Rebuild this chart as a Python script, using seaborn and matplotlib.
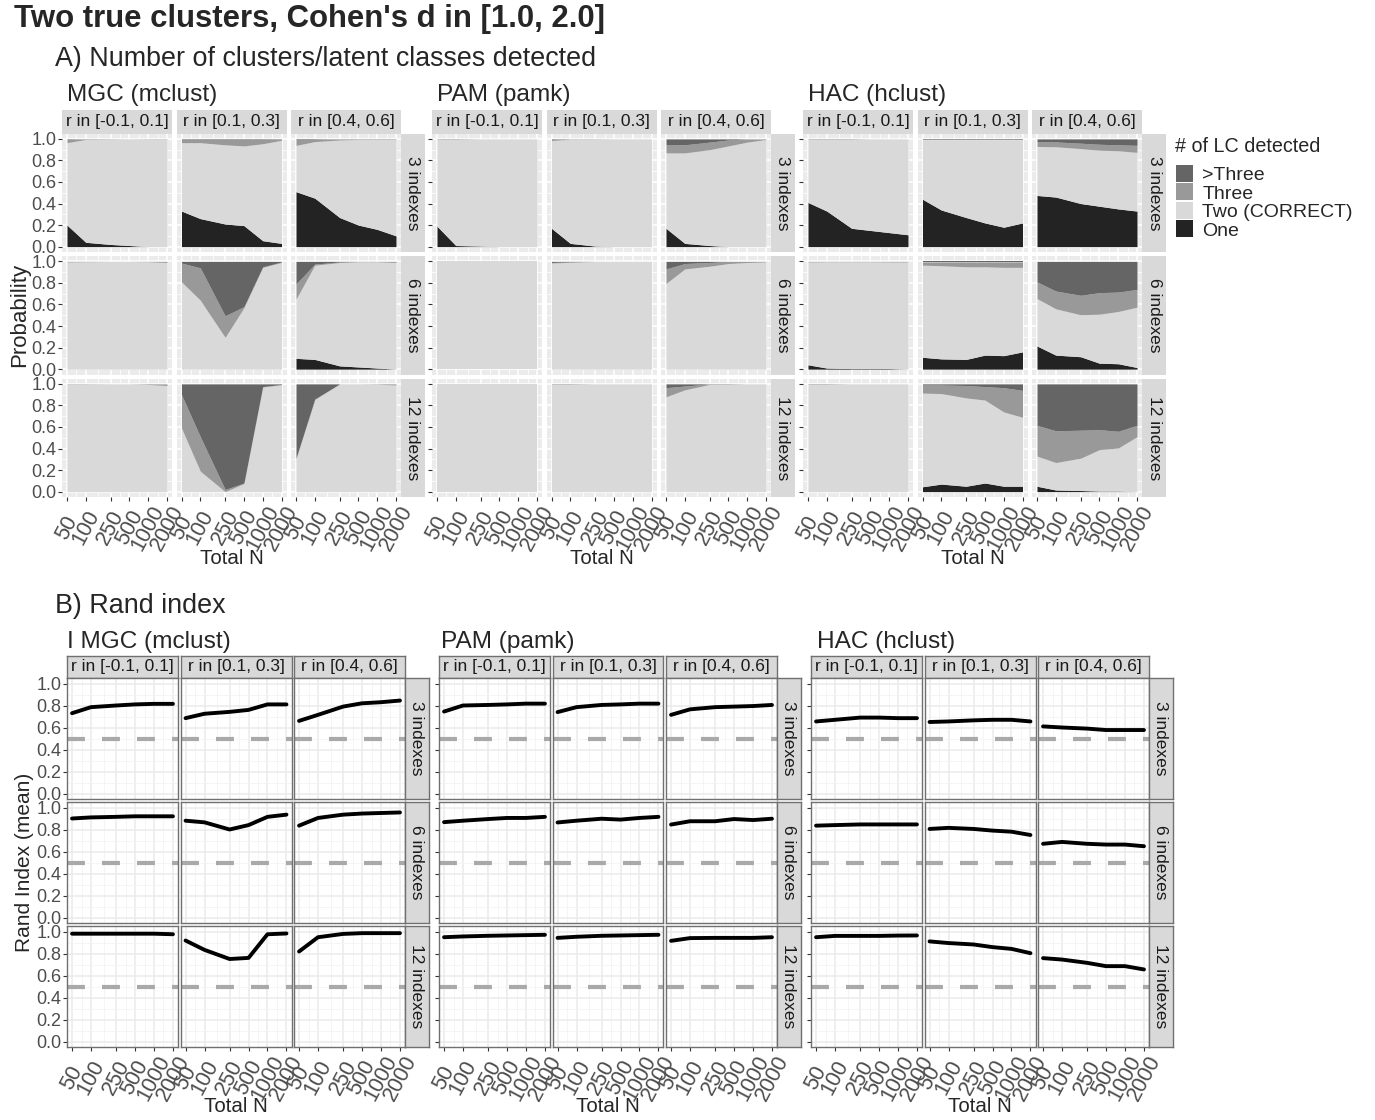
import numpy as np
import matplotlib
matplotlib.use("Agg")
import matplotlib.pyplot as plt
from matplotlib.patches import Patch
from matplotlib.ticker import NullFormatter
import seaborn as sns

# ---- data -------------------------------------------------------------
N = [50, 100, 250, 500, 1000, 2000]
RHO = ["r in [-0.1, 0.1]", "r in [0.1, 0.3]", "r in [0.4, 0.6]"]
INDEXES = ["3 indexes", "6 indexes", "12 indexes"]
METHODS_A = ["MGC (mclust)", "PAM (pamk)", "HAC (hclust)"]
METHODS_B = ["I MGC (mclust)", "PAM (pamk)", "HAC (hclust)"]
LC_LEVELS = [">Three", "Three", "Two (CORRECT)", "One"]

# probability of detecting one / three / more than three classes
# [row = indexes][col = r range][N]
MGC_ONE = [
    [[0.20, 0.04, 0.02, 0.01, 0.0, 0.0], [0.33, 0.26, 0.21, 0.195, 0.055, 0.03], [0.51, 0.45, 0.27, 0.20, 0.16, 0.10]],
    [[0, 0, 0, 0, 0, 0], [0, 0, 0, 0, 0, 0], [0.10, 0.09, 0.03, 0.02, 0.01, 0.0]],
    [[0, 0, 0, 0, 0, 0], [0, 0, 0, 0, 0, 0], [0, 0, 0, 0, 0, 0]],
]
MGC_THREE = [
    [[0.03, 0.005, 0.003, 0.0, 0.003, 0.003], [0.03, 0.03, 0.05, 0.06, 0.04, 0.01], [0.05, 0.02, 0.01, 0.005, 0.005, 0.005]],
    [[0.005, 0.003, 0.0, 0.0, 0.003, 0.01], [0.175, 0.30, 0.20, 0.01, 0.005, 0.005], [0.14, 0.01, 0.005, 0.003, 0.003, 0.01]],
    [[0.003, 0.003, 0.0, 0.0, 0.005, 0.015], [0.31, 0.32, 0.02, 0.005, 0.003, 0.003], [0.005, 0.005, 0.0, 0.0, 0.003, 0.01]],
]
MGC_MORE = [
    [[0.005, 0, 0, 0, 0, 0], [0.005, 0.005, 0.005, 0.005, 0.005, 0.003], [0.01, 0.005, 0, 0, 0, 0]],
    [[0, 0, 0, 0, 0, 0], [0.015, 0.06, 0.505, 0.42, 0.05, 0.005], [0.21, 0.025, 0.005, 0, 0, 0]],
    [[0, 0, 0, 0, 0, 0], [0.10, 0.49, 0.98, 0.92, 0.025, 0.005], [0.69, 0.14, 0, 0, 0, 0]],
]

PAM_ONE = [
    [[0.19, 0.01, 0.005, 0, 0, 0], [0.17, 0.03, 0.005, 0, 0, 0], [0.17, 0.03, 0.01, 0, 0, 0]],
    [[0, 0, 0, 0, 0, 0], [0, 0, 0, 0, 0, 0], [0, 0, 0, 0, 0, 0]],
    [[0, 0, 0, 0, 0, 0], [0, 0, 0, 0, 0, 0], [0, 0, 0, 0, 0, 0]],
]
PAM_THREE = [
    [[0.005, 0.005, 0, 0, 0, 0], [0.01, 0.003, 0.003, 0, 0, 0], [0.075, 0.075, 0.07, 0.055, 0.03, 0.005]],
    [[0, 0, 0, 0, 0, 0], [0.005, 0.005, 0, 0, 0, 0], [0.135, 0.05, 0.035, 0.02, 0.01, 0.005]],
    [[0, 0, 0, 0, 0, 0], [0.005, 0.005, 0, 0, 0, 0], [0.085, 0.035, 0.005, 0.005, 0, 0]],
]
PAM_MORE = [
    [[0, 0, 0, 0, 0, 0], [0.005, 0, 0, 0, 0, 0], [0.055, 0.055, 0.03, 0.01, 0, 0]],
    [[0, 0, 0, 0, 0, 0], [0.01, 0.003, 0, 0, 0, 0], [0.07, 0.02, 0.01, 0, 0, 0]],
    [[0, 0, 0, 0, 0, 0], [0, 0, 0, 0, 0, 0], [0.035, 0.02, 0, 0, 0, 0]],
]

HAC_ONE = [
    [[0.41, 0.33, 0.17, 0.15, 0.13, 0.11], [0.44, 0.34, 0.27, 0.22, 0.18, 0.22], [0.475, 0.46, 0.40, 0.375, 0.35, 0.33]],
    [[0.04, 0.01, 0.005, 0.005, 0.005, 0], [0.11, 0.095, 0.09, 0.13, 0.125, 0.16], [0.215, 0.13, 0.115, 0.055, 0.05, 0.015]],
    [[0, 0, 0, 0, 0, 0], [0.045, 0.07, 0.05, 0.08, 0.05, 0.05], [0.05, 0.015, 0.01, 0.005, 0.005, 0]],
]
HAC_THREE = [
    [[0.005, 0.005, 0.005, 0, 0, 0], [0.005, 0.005, 0.005, 0.005, 0.005, 0.005], [0.045, 0.045, 0.05, 0.055, 0.055, 0.065]],
    [[0.005, 0.003, 0.003, 0.003, 0.005, 0.005], [0.03, 0.035, 0.045, 0.045, 0.05, 0.05], [0.155, 0.165, 0.18, 0.20, 0.18, 0.165]],
    [[0.005, 0.005, 0, 0, 0, 0], [0.075, 0.08, 0.115, 0.125, 0.225, 0.25], [0.285, 0.295, 0.26, 0.185, 0.155, 0.105]],
]
HAC_MORE = [
    [[0, 0, 0, 0, 0, 0], [0.003, 0.003, 0.003, 0.003, 0.003, 0.003], [0.025, 0.028, 0.04, 0.05, 0.055, 0.06]],
    [[0, 0, 0, 0, 0, 0], [0.005, 0.005, 0.005, 0.005, 0.005, 0.005], [0.19, 0.275, 0.315, 0.29, 0.285, 0.26]],
    [[0, 0, 0, 0, 0, 0], [0.01, 0.01, 0.015, 0.025, 0.035, 0.06], [0.385, 0.435, 0.43, 0.425, 0.44, 0.385]],
]

# mean Rand index
MGC_RAND = [
    [[0.73, 0.785, 0.80, 0.81, 0.815, 0.815], [0.685, 0.725, 0.742, 0.76, 0.81, 0.81], [0.66, 0.715, 0.79, 0.82, 0.83, 0.845]],
    [[0.90, 0.91, 0.915, 0.92, 0.92, 0.92], [0.88, 0.865, 0.80, 0.84, 0.915, 0.935], [0.835, 0.905, 0.935, 0.945, 0.95, 0.955]],
    [[0.98, 0.98, 0.98, 0.98, 0.98, 0.975], [0.918, 0.833, 0.75, 0.76, 0.975, 0.982], [0.818, 0.948, 0.978, 0.985, 0.985, 0.985]],
]
PAM_RAND = [
    [[0.745, 0.80, 0.805, 0.81, 0.817, 0.817], [0.74, 0.785, 0.805, 0.81, 0.817, 0.817], [0.715, 0.765, 0.785, 0.79, 0.795, 0.805]],
    [[0.867, 0.88, 0.895, 0.905, 0.905, 0.915], [0.864, 0.88, 0.898, 0.89, 0.905, 0.915], [0.845, 0.875, 0.875, 0.895, 0.886, 0.898]],
    [[0.948, 0.955, 0.961, 0.964, 0.967, 0.97], [0.942, 0.952, 0.961, 0.964, 0.967, 0.97], [0.915, 0.94, 0.942, 0.942, 0.942, 0.948]],
]
HAC_RAND = [
    [[0.655, 0.67, 0.69, 0.69, 0.685, 0.685], [0.65, 0.655, 0.665, 0.67, 0.67, 0.655], [0.61, 0.60, 0.59, 0.577, 0.577, 0.577]],
    [[0.835, 0.84, 0.846, 0.846, 0.846, 0.846], [0.805, 0.815, 0.805, 0.79, 0.78, 0.75], [0.67, 0.687, 0.67, 0.663, 0.663, 0.648]],
    [[0.948, 0.96, 0.96, 0.96, 0.963, 0.964], [0.91, 0.895, 0.882, 0.858, 0.842, 0.803], [0.758, 0.745, 0.715, 0.685, 0.685, 0.655]],
]
CHANCE = 0.5

# ---- style ------------------------------------------------------------
C_MORE, C_THREE, C_TWO, C_ONE = "#656565", "#999999", "#d9d9d9", "#232323"
STRIP_BG = "#d9d9d9"
TICK_TXT = "#4d4d4d"
BORDER = "#707070"

sns.set_theme(style="white")
plt.rcParams['font.family'] = ['Liberation Sans', 'DejaVu Sans']

W, H = 1375, 1120
fig = plt.figure(figsize=(W / 100, H / 100), dpi=100)


def px_axes(x0, y0, x1, y1):
    return fig.add_axes([x0 / W, 1 - y1 / H, (x1 - x0) / W, (y1 - y0) / H])


X_LO = 50 / 40 ** 0.05
X_HI = 2000 * 40 ** 0.05
MINOR_X = [np.sqrt(a * b) for a, b in zip(N[:-1], N[1:])]


def style_axes(ax, left, bottom, ylabels, grid_major, grid_minor):
    ax.set_xscale('log')
    ax.set_xlim(X_LO, X_HI)
    ax.set_ylim(-0.05, 1.05)
    ax.set_xticks(N)
    ax.set_xticks(MINOR_X, minor=True)
    ax.set_yticks([0, 0.2, 0.4, 0.6, 0.8, 1.0])
    ax.set_yticks([0.1, 0.3, 0.5, 0.7, 0.9], minor=True)
    ax.xaxis.set_minor_formatter(NullFormatter())
    ax.set_xlabel("")
    ax.set_ylabel("")
    ax.set_axisbelow(True)
    ax.grid(True, which='major', color=grid_major, lw=1.1)
    ax.grid(True, which='minor', color=grid_minor, lw=0.55)
    ax.tick_params(which='minor', length=0)
    ax.tick_params(which='major', length=2.75, width=0.8, color='#333333', direction='out')
    if bottom:
        ax.set_xticklabels([str(n) for n in N], rotation=62, ha='center', va='center',
                           rotation_mode='anchor', fontsize=15.5, color=TICK_TXT)
        ax.tick_params(axis='x', pad=19.5, bottom=True)
    else:
        ax.tick_params(axis='x', bottom=False, labelbottom=False)
    if left:
        ax.tick_params(axis='y', left=True, labelleft=ylabels, pad=1.2, labelsize=13, labelcolor=TICK_TXT)
        ax.set_yticklabels(["0.0", "0.2", "0.4", "0.6", "0.8", "1.0"])
    else:
        ax.tick_params(axis='y', left=False, labelleft=False)


def strip(ax, text, rot, bordered):
    ax.set_facecolor(STRIP_BG)
    ax.set_xticks([])
    ax.set_yticks([])
    for s in ax.spines.values():
        s.set_visible(bordered)
        s.set_color(BORDER)
        s.set_linewidth(1.0)
    ax.text(0.5, 0.5, text, rotation=rot, ha='center', va='center', fontsize=12.5,
            color='#1a1a1a', transform=ax.transAxes)


# ---- titles -----------------------------------------------------------
fig.text(14 / W, 1 - 19 / H, "Two true clusters, Cohen's d in [1.0, 2.0]", fontsize=22.4,
         fontweight='bold', ha='left', va='center')
fig.text(55 / W, 1 - 59 / H, "A) Number of clusters/latent classes detected", fontsize=19.4,
         ha='left', va='center')
fig.text(55 / W, 1 - 606 / H, "B) Rand index", fontsize=19.4, ha='left', va='center')

# ---- panel A ----------------------------------------------------------
A_LEFT = [62, 432, 803]
A_PW, A_GAP, A_SW = 110, 4.5, 24
A_ROWS = [(133.5, 252), (256, 374.5), (378.5, 497)]
A_STRIP_TOP = 110
A_DATA = [(MGC_ONE, MGC_THREE, MGC_MORE), (PAM_ONE, PAM_THREE, PAM_MORE), (HAC_ONE, HAC_THREE, HAC_MORE)]

for g, (one_all, three_all, more_all) in enumerate(A_DATA):
    gx = A_LEFT[g]
    fig.text((gx + 5) / W, 1 - 95 / H, METHODS_A[g], fontsize=17.6, ha='left', va='center')
    for c in range(3):
        x0 = gx + c * (A_PW + A_GAP)
        x1 = x0 + A_PW
        sax = px_axes(x0, A_STRIP_TOP, x1, A_ROWS[0][0])
        strip(sax, RHO[c], 0, False)
        for r in range(3):
            y0, y1 = A_ROWS[r]
            ax = px_axes(x0, y0, x1, y1)
            ax.set_facecolor('#ebebeb')
            for s in ax.spines.values():
                s.set_visible(False)
            one = np.array(one_all[r][c])
            three = np.array(three_all[r][c])
            more = np.array(more_all[r][c])
            two = 1 - one - three - more
            ax.stackplot(N, one, two, three, more, colors=[C_ONE, C_TWO, C_THREE, C_MORE],
                         linewidth=0)
            style_axes(ax, c == 0, r == 2, g == 0 and c == 0, 'white', 'white')
            if c == 2:
                rax = px_axes(x1, y0, x1 + A_SW, y1)
                strip(rax, INDEXES[r], 270, False)
    mid = gx + (A_PW + A_GAP) + A_PW / 2
    fig.text(mid / W, 1 - 559 / H, "Total N", fontsize=14.8, ha='center', va='center')

fig.text(20 / W, 1 - (A_ROWS[1][0] + A_ROWS[1][1]) / 2 / H, "Probability", fontsize=16,
         rotation=90, ha='center', va='center')

# legend: title as its own text, keys stacked without gaps
fig.text(1175 / W, 1 - 147 / H, "# of LC detected", fontsize=14.2, ha='left', va='center')
handles = [Patch(facecolor=col, edgecolor='none') for col in [C_MORE, C_THREE, C_TWO, C_ONE]]
fig.legend(handles, LC_LEVELS, loc='upper left', bbox_to_anchor=(1176 / W, 1 - 165 / H),
           frameon=False, fontsize=14, labelspacing=-0.03, handlelength=0.85,
           handleheight=0.95, handletextpad=0.5, borderpad=0, borderaxespad=0)

# ---- panel B ----------------------------------------------------------
B_LEFT = [67, 439, 811]
B_PW, B_GAP, B_SW = 111, 2.5, 24
B_ROWS = [(678, 799), (802, 923), (926, 1047)]
B_STRIP_TOP = 656
B_TITLE_X = [67, 441, 817]
B_DATA = [MGC_RAND, PAM_RAND, HAC_RAND]

for g, rand_all in enumerate(B_DATA):
    gx = B_LEFT[g]
    fig.text(B_TITLE_X[g] / W, 1 - 642 / H, METHODS_B[g], fontsize=17.6, ha='left', va='center')
    for c in range(3):
        x0 = gx + c * (B_PW + B_GAP)
        x1 = x0 + B_PW
        sax = px_axes(x0, B_STRIP_TOP, x1, B_ROWS[0][0])
        strip(sax, RHO[c], 0, True)
        for r in range(3):
            y0, y1 = B_ROWS[r]
            ax = px_axes(x0, y0, x1, y1)
            ax.set_facecolor('white')
            for s in ax.spines.values():
                s.set_visible(True)
                s.set_color(BORDER)
                s.set_linewidth(1.0)
            ax.axhline(CHANCE, color='#a9a9a9', lw=3, ls=(0, (4.3, 4.1)), zorder=2)
            sns.lineplot(x=N, y=rand_all[r][c], ax=ax, color='black', lw=2.8, zorder=3)
            style_axes(ax, c == 0, r == 2, g == 0 and c == 0, '#ebebeb', '#f3f3f3')
            if c == 2:
                rax = px_axes(x1, y0, x1 + B_SW, y1)
                strip(rax, INDEXES[r], 270, True)
    mid = gx + (B_PW + B_GAP) + B_PW / 2
    fig.text(mid / W, 1 - 1106 / H, "Total N", fontsize=14.8, ha='center', va='center')

fig.text(25 / W, 1 - (B_ROWS[1][0] + B_ROWS[1][1]) / 2 / H, "Rand Index (mean)", fontsize=15,
         rotation=90, ha='center', va='center')

fig.savefig("out.png", dpi=100, facecolor='white')
